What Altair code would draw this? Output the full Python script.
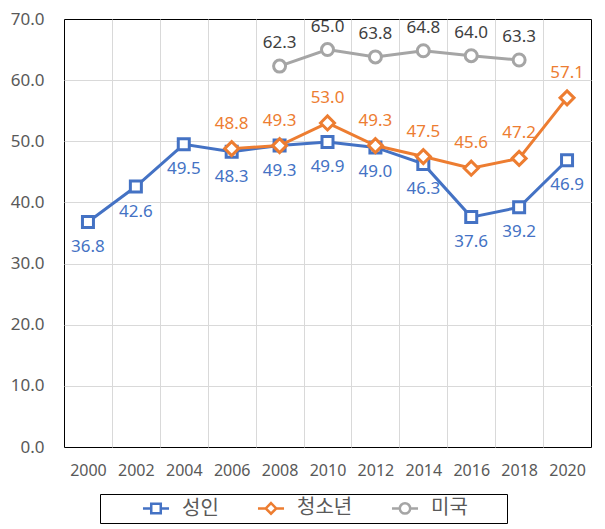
import altair as alt
import pandas as pd

years = [2000, 2002, 2004, 2006, 2008, 2010, 2012, 2014, 2016, 2018, 2020]
adult_years = years
adult = [36.8, 42.6, 49.5, 48.3, 49.3, 49.9, 49.0, 46.3, 37.6, 39.2, 46.9]
youth_years = [2006, 2008, 2010, 2012, 2014, 2016, 2018, 2020]
youth = [48.8, 49.3, 53.0, 49.3, 47.5, 45.6, 47.2, 57.1]
us_years = [2008, 2010, 2012, 2014, 2016, 2018]
us = [62.3, 65.0, 63.8, 64.8, 64.0, 63.3]
y_ticks = [0, 10, 20, 30, 40, 50, 60, 70]

series_names = ["성인", "청소년", "미국"]
line_colors = ["#4472C4", "#ED7D31", "#A5A5A5"]
text_colors = ["#4472C4", "#ED7D31", "#404040"]
marker_shapes = ["square", "diamond", "circle"]
marker_sizes = [121, 196, 144]
label_dy = [25, -25, -23]

# legend symbols: a line segment through an open marker (units of 7px);
# the last one ends with a bare move that widens the legend frame on the right
legend_paths = [
    "M-1.86,0H-0.68M0.68,0H1.86M-0.68,-0.68H0.68V0.68H-0.68Z",
    "M-1.86,0H-0.75M0.75,0H1.86M0,-0.75L0.75,0L0,0.75L-0.75,0Z",
    "M-1.86,0H-0.74M0.74,0H1.86M0.74,0A0.74,0.74 0 1,1 -0.74,0A0.74,0.74 0 1,1 0.74,0ZM13.2,0",
]

rows = []
for name, ys, vs in zip(series_names, [adult_years, youth_years, us_years], [adult, youth, us]):
    for y, v in zip(ys, vs):
        rows.append({"year": y, "value": v, "series": name})
df = pd.DataFrame(rows)

FONT = "Noto Sans"
AXIS_COLOR = "#595959"
GRID = "#D9D9D9"

x_axis_values = list(range(years[0] - 1, years[-1] + 2))
x_enc = alt.X(
    "year:Q",
    scale=alt.Scale(domain=[years[0] - 1, years[-1] + 1], nice=False, zero=False),
    axis=alt.Axis(
        title=None, values=x_axis_values, format="d", labelAngle=0,
        labelExpr="datum.value % 2 == 0 && datum.value >= 2000 && datum.value <= 2020 ? datum.label : ''",
        ticks=False, domain=False, grid=True,
        gridColor={"condition": {"test": "datum.value % 2 == 1 && datum.value > 1999 && datum.value < 2021",
                                 "value": GRID}, "value": "transparent"},
        gridWidth=1, labelFont=FONT, labelFontSize=16, labelColor=AXIS_COLOR,
        labelPadding=15, labelOverlap=False, labelFlush=False,
    ),
)
y_enc = alt.Y(
    "value:Q",
    scale=alt.Scale(domain=[0, 70], nice=False, zero=True),
    axis=alt.Axis(
        title=None, values=y_ticks, format=".1f",
        ticks=False, domain=False, grid=True,
        gridColor={"condition": {"test": "datum.value > 0 && datum.value < 70", "value": GRID},
                   "value": "transparent"},
        gridWidth=1, labelFont=FONT, labelFontSize=17, labelColor=AXIS_COLOR, labelPadding=20,
    ),
)

base = alt.Chart(df)
layers = []
for i, name in enumerate(series_names):
    sub = base.transform_filter(alt.datum.series == name)
    layers.append(
        sub.mark_line(color=line_colors[i], strokeWidth=3).encode(x=x_enc, y=y_enc)
    )
    layers.append(
        sub.mark_point(
            shape=marker_shapes[i], size=marker_sizes[i], filled=True,
            fill="white", stroke=line_colors[i], strokeWidth=3, opacity=1,
        ).encode(x=x_enc, y=y_enc)
    )
for i, name in enumerate(series_names):
    sub = base.transform_filter(alt.datum.series == name)
    layers.append(
        sub.mark_text(
            dy=label_dy[i], font=FONT, fontSize=17, color=text_colors[i],
            baseline="middle", align="center",
        ).encode(x=x_enc, y=y_enc, text=alt.Text("value:Q", format=".1f"))
    )

legend = alt.Legend(
    title="\u00a0", titleOrient="left", titleFontSize=2, titlePadding=42,
    orient="none", legendX=36, legendY=475, direction="horizontal",
    gridAlign="each", columnPadding=33, symbolSize=196, symbolStrokeWidth=2.5,
    symbolFillColor="white", symbolOpacity=1,
    labelFont="Noto Sans CJK KR", labelFontSize=20, labelColor=AXIS_COLOR,
    labelOffset=16, padding=4, strokeColor="black",
)
legend_layer = base.mark_point(opacity=0, filled=False).encode(
    x=x_enc, y=y_enc,
    stroke=alt.Stroke("series:N", scale=alt.Scale(domain=series_names, range=line_colors), legend=legend),
    shape=alt.Shape("series:N", scale=alt.Scale(domain=series_names, range=legend_paths), legend=legend),
)
layers.append(legend_layer)

chart = alt.layer(*layers).properties(
    width=527, height=428,
    autosize=alt.AutoSizeParams(type="none"),
    padding={"left": 56, "top": 11, "right": 6, "bottom": 82},
).configure(background="white").configure_view(stroke="black", strokeWidth=1)

chart.save("out.html", embed_options={"renderer": "svg", "actions": False})
